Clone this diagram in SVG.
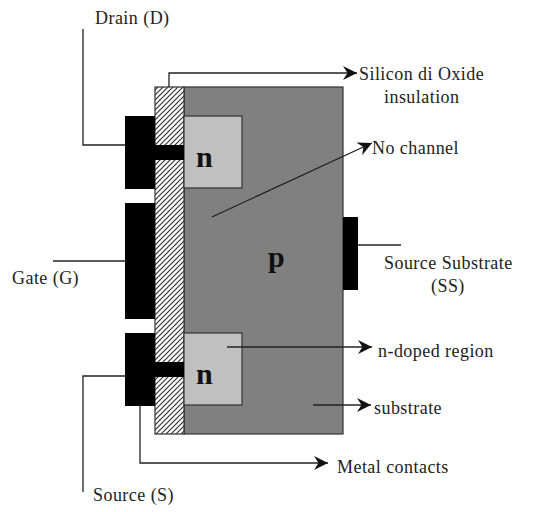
<svg xmlns="http://www.w3.org/2000/svg" width="535" height="512" viewBox="0 0 535 512">
<style>
text{font-family:"Liberation Serif",serif;font-size:18px;letter-spacing:.45px;fill:#222}
.b{font-weight:bold;fill:#111;font-size:30px;letter-spacing:0}
.line{fill:none;stroke:#222;stroke-width:1.3}
.o{stroke:#333;stroke-width:1.2}
.m{fill:#000}
</style>
<defs>
<pattern id="h" width="5" height="5" patternUnits="userSpaceOnUse">
<rect width="5" height="5" fill="#fff"/><path d="M-1 6L6 -1M-1 1L1 -1M4 6L6 4" stroke="#333" stroke-width="1.2" fill="none"/>
</pattern>
<marker id="a" markerWidth="16" markerHeight="14" refX="14" refY="7" orient="auto" markerUnits="userSpaceOnUse">
<path d="M0 0L14 7L0 14L4.500 7Z" fill="#111"/>
</marker>
</defs>
<rect width="535" height="512" fill="#fff"/>
<g id="substrate"><rect x="184" y="87" width="159" height="347" fill="#808080" class="o"/><text x="268" y="267" class="b">p</text></g>
<g id="oxide"><rect x="155" y="87" width="29" height="347" fill="url(#h)" class="o"/></g>
<g id="drain-n"><rect x="184" y="116" width="58" height="72" fill="#c0c0c0" class="o"/><text x="196" y="167" class="b">n</text></g>
<g id="source-n"><rect x="184" y="333" width="58" height="72" fill="#c0c0c0" class="o"/><text x="196" y="384" class="b">n</text></g>
<g id="drain-contact"><rect x="125" y="116" width="30" height="73" class="m"/><rect x="155" y="145" width="29" height="15" class="m"/></g>
<g id="gate-contact"><rect x="125" y="203" width="30" height="116" class="m"/></g>
<g id="source-contact"><rect x="125" y="333" width="30" height="73" class="m"/><rect x="155" y="362" width="29" height="15" class="m"/></g>
<g id="substrate-contact"><rect x="343" y="217" width="15" height="73" class="m"/></g>
<g id="connectors">
<path class="line" d="M125 145H83V29"/>
<path class="line" d="M125 261H53"/>
<path class="line" d="M125 376H83V492"/>
<path class="line" d="M358 245H401"/>
<path class="line" d="M169 87V73H357" marker-end="url(#a)"/>
<path class="line" d="M212 217L372 143" marker-end="url(#a)"/>
<path class="line" d="M227 347H372" marker-end="url(#a)"/>
<path class="line" d="M313 405H371" marker-end="url(#a)"/>
<path class="line" d="M140 406V463H328" marker-end="url(#a)"/>
</g>
<g id="labels">
<text x="95" y="24">Drain (D)</text>
<text x="359" y="80">Silicon di Oxide</text>
<text x="384" y="103">insulation</text>
<text x="372" y="154">No channel</text>
<text x="12" y="284">Gate (G)</text>
<text x="384" y="269">Source Substrate</text>
<text x="431" y="292">(SS)</text>
<text x="378" y="357">n-doped region</text>
<text x="374" y="414">substrate</text>
<text x="337" y="473">Metal contacts</text>
<text x="93" y="501">Source (S)</text>
</g>
</svg>
